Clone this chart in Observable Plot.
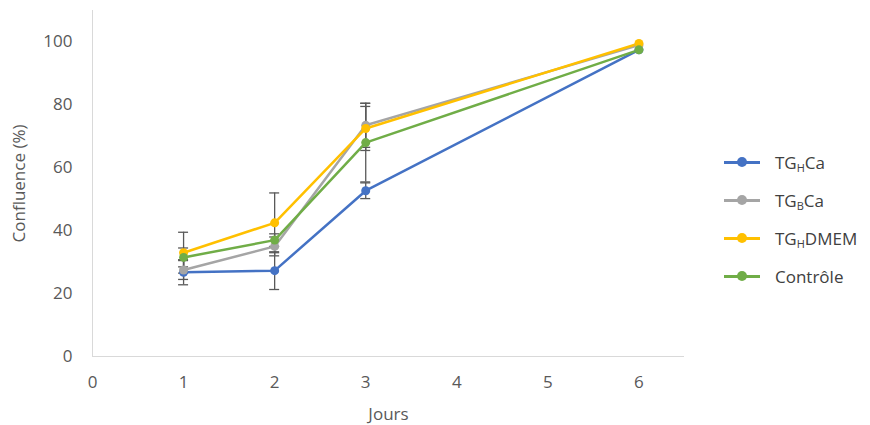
<!DOCTYPE html>
<html>
<head>
<meta charset="utf-8">
<script src="https://cdn.jsdelivr.net/npm/d3@7"></script>
<script src="https://cdn.jsdelivr.net/npm/@observablehq/plot@0.6"></script>
<style>
  body { margin: 0; background: #fff; font-family: "Open Sans", sans-serif; }
  #wrap { position: relative; width: 870px; height: 425px; }
  #legend { position: absolute; left: 724px; top: 143px; font-size: 17px; color: #404040; }
  .item { display: flex; align-items: center; height: 38px; }
  .sw { position: relative; width: 36px; height: 12px; margin-right: 15px; }
  .sw .ln { position: absolute; left: 0; right: 0; top: 5px; height: 2.5px; }
  .sw .dt { position: absolute; left: 13px; top: 1px; width: 10px; height: 10px; border-radius: 50%; }
  sub { font-size: 11px; vertical-align: -3px; line-height: 0; }
</style>
</head>
<body>
<div id="wrap"><div id="chart"></div><div id="legend"></div></div>
<script>
const days = [1, 2, 3, 6];
const seriesNames = ["TGHCa", "TGBCa", "TGHDMEM", "Contrôle"];
const seriesLabels = ["TG<sub>H</sub>Ca", "TG<sub>B</sub>Ca", "TG<sub>H</sub>DMEM", "Contrôle"];
const colors = ["#4472C4", "#A5A5A5", "#FFC000", "#70AD47"];
const values = {
  "TGHCa":    [26.8, 27.3, 52.7, 97.5],
  "TGBCa":    [27.5, 35.0, 73.5, 99.0],
  "TGHDMEM":  [33.0, 42.5, 72.5, 99.5],
  "Contrôle": [31.5, 37.0, 68.0, 97.5]
};
const errors = {
  "TGHCa":    [4.0, 6.0, 2.5, 0],
  "TGBCa":    [3.0, 3.0, 7.0, 0],
  "TGHDMEM":  [6.5, 9.5, 7.0, 0],
  "Contrôle": [3.0, 2.0, 12.5, 0]
};
const xTicks = [0, 1, 2, 3, 4, 5, 6];
const yTicks = [0, 20, 40, 60, 80, 100];

const data = [];
seriesNames.forEach(s => days.forEach((d, i) => data.push({series: s, day: d, value: values[s][i], err: errors[s][i]})));
const errData = data.filter(d => d.err > 0);

const plot = Plot.plot({
  width: 700,
  height: 425,
  marginLeft: 92,
  marginRight: 16,
  marginTop: 10,
  marginBottom: 69,
  style: {fontFamily: "Open Sans, sans-serif", fontSize: "17px", color: "#595959"},
  x: {domain: [0, 6.5], ticks: xTicks, tickFormat: "d", tickSize: 0, tickPadding: 19, label: "Jours", labelAnchor: "center", labelOffset: 63, labelArrow: "none"},
  y: {domain: [0, 110], ticks: yTicks, tickFormat: "d", tickSize: 0, tickPadding: 20, label: "Confluence (%)", labelAnchor: "center", labelOffset: 80, labelArrow: "none"},
  color: {domain: seriesNames, range: colors},
  marks: [
    Plot.ruleX([0], {stroke: "#d9d9d9", y1: 0, y2: 110}),
    Plot.ruleY([0], {stroke: "#d9d9d9"}),
    Plot.ruleX(errData, {x: "day", y1: d => d.value - d.err, y2: d => d.value + d.err, stroke: "#595959", strokeWidth: 1.3}),
    Plot.ruleY(errData, {y: d => d.value + d.err, x1: "day", x2: "day", insetLeft: -5, insetRight: -5, stroke: "#595959", strokeWidth: 1.3}),
    Plot.ruleY(errData, {y: d => d.value - d.err, x1: "day", x2: "day", insetLeft: -5, insetRight: -5, stroke: "#595959", strokeWidth: 1.3}),
    Plot.line(data, {x: "day", y: "value", z: "series", stroke: "series", strokeWidth: 2.5}),
    Plot.dot(data, {x: "day", y: "value", fill: "series", r: 4.5})
  ]
});
document.getElementById("chart").appendChild(plot);

const legend = document.getElementById("legend");
seriesNames.forEach((s, i) => {
  const item = document.createElement("div");
  item.className = "item";
  item.innerHTML = `<div class="sw"><div class="ln" style="background:${colors[i]}"></div><div class="dt" style="background:${colors[i]}"></div></div><span>${seriesLabels[i]}</span>`;
  legend.appendChild(item);
});
</script>
</body>
</html>
